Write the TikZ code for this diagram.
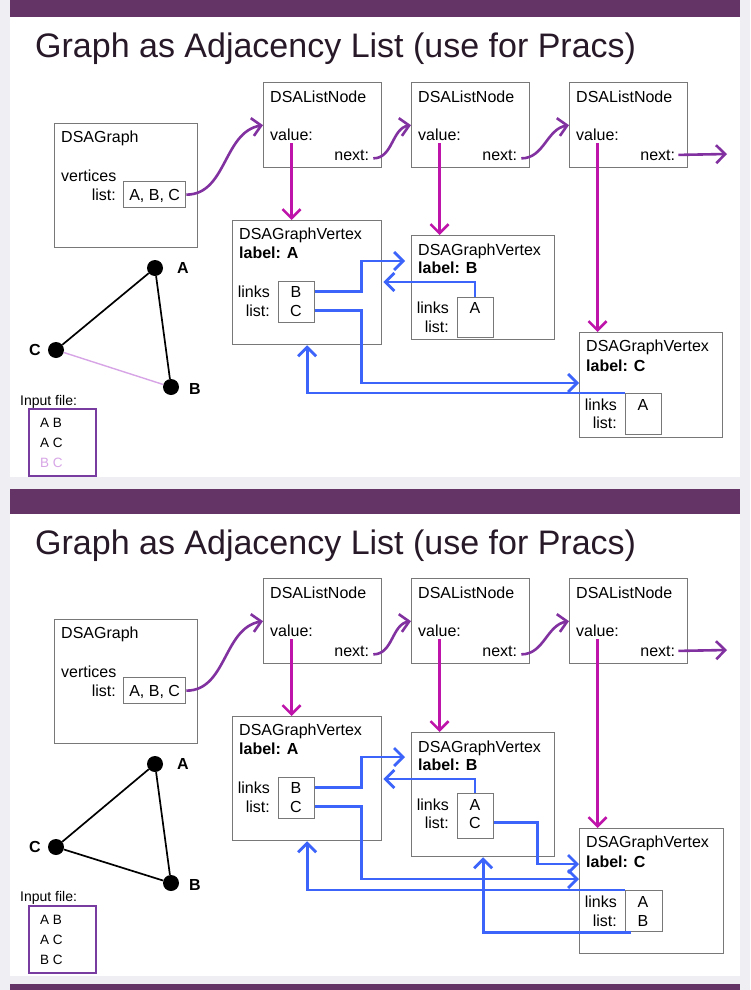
\documentclass[tikz,border=0pt]{standalone}
\usepackage{fontspec}
\setmainfont{Liberation Sans}
\usetikzlibrary{arrows.meta,positioning}

\definecolor{bggray}{RGB}{238,238,243}
\definecolor{barpurple}{RGB}{101,52,102}
\definecolor{titlecol}{RGB}{40,25,40}
\definecolor{boxgray}{RGB}{120,120,120}
\definecolor{valmag}{RGB}{190,20,170}
\definecolor{nextpur}{RGB}{130,50,160}
\definecolor{linkblue}{RGB}{60,100,250}
\definecolor{lightpur}{RGB}{215,165,230}
\definecolor{inpur}{RGB}{120,60,160}

\tikzset{
  box/.style={draw=boxgray, line width=1.3pt, anchor=north west, inner sep=0pt},
  txt/.style={font=\fontsize{16}{19}\selectfont, inner sep=0pt, anchor=base west},
  rtxt/.style={txt, anchor=base east},
  ctxt/.style={txt, anchor=base},
  btxt/.style={txt, font=\bfseries\fontsize{16}{19}\selectfont},
  ftxt/.style={font=\fontsize{13.5}{15}\selectfont, inner sep=0pt, anchor=base west},
  ttl/.style={font=\fontsize{34}{40}\selectfont, inner sep=0pt, anchor=base west, text=titlecol},
  vtx/.style={circle, fill=black, inner sep=0pt, minimum size=16pt},
  vlab/.style={font=\bfseries\fontsize{16}{19}\selectfont, inner sep=0pt},
  edge/.style={line width=1.7pt},
  tip/.style={-{Straight Barb[length=9pt,width=18pt]}},
  nextarr/.style={tip, draw=nextpur, line width=2.6pt},
  valarr/.style={tip, draw=valmag, line width=2.6pt},
  link/.style={tip, draw=linkblue, line width=2.8pt},
}

\begin{document}
\begin{tikzpicture}[x=1pt, y=-1pt]
    \useasboundingbox (0,0) rectangle (750,990);
    \fill[bggray] (0,0) rectangle (750,990);

    % ---------- Slide 1: edge B-C not yet read ----------
    \fill[white] (10,0) rectangle (740,477);
    \fill[barpurple] (10,0) rectangle (740,17);
    \node[ttl] (s1title) at (35,57) {Graph as Adjacency List (use for Pracs)};

    % graph object
    \node[box, minimum width=143pt, minimum height=124pt] (s1g) at (54,123) {};
    \node[txt] (s1gt) at ([shift={(7,19)}]s1g.north west) {DSAGraph};
    \node[txt] (s1gv) at ([shift={(7,58)}]s1g.north west) {vertices};
    \node[rtxt] (s1gl) at ([shift={(62,77)}]s1g.north west) {list:};
    \node[box, minimum width=62pt, minimum height=26pt] (s1glist) at (123,181) {};
    \node[ctxt] (s1gabc) at ([shift={(0,6)}]s1glist.center) {A, B, C};

    % list nodes
    \node[box, minimum width=118pt, minimum height=85pt] (s1ln1) at (263,82) {};
    \node[txt] (s1ln1t) at ([shift={(7,20)}]s1ln1.north west) {DSAListNode};
    \node[txt] (s1val1) at ([shift={(7,58)}]s1ln1.north west) {value:};
    \node[rtxt] (s1nxt1) at ([shift={(-13,78)}]s1ln1.north east) {next:};
    \node[box, minimum width=118pt, minimum height=85pt] (s1ln2) at (411,82) {};
    \node[txt] (s1ln2t) at ([shift={(7,20)}]s1ln2.north west) {DSAListNode};
    \node[txt] (s1val2) at ([shift={(7,58)}]s1ln2.north west) {value:};
    \node[rtxt] (s1nxt2) at ([shift={(-13,78)}]s1ln2.north east) {next:};
    \node[box, minimum width=118pt, minimum height=85pt] (s1ln3) at (569,82) {};
    \node[txt] (s1ln3t) at ([shift={(7,20)}]s1ln3.north west) {DSAListNode};
    \node[txt] (s1val3) at ([shift={(7,58)}]s1ln3.north west) {value:};
    \node[rtxt] (s1nxt3) at ([shift={(-13,78)}]s1ln3.north east) {next:};
    \coordinate (s1end) at (727,154);

    % vertices
    \node[box, minimum width=149pt, minimum height=124pt] (s1va) at (232,220) {};
    \node[txt] (s1vat) at ([shift={(7,19)}]s1va.north west) {DSAGraphVertex};
    \node[btxt] (s1val) at ([shift={(7,38)}]s1va.north west) {label: A};
    \node[rtxt] (s1vak) at ([shift={(38,77)}]s1va.north west) {links};
    \node[rtxt] (s1vas) at ([shift={(38,96)}]s1va.north west) {list:};
    \node[box, minimum width=36pt, minimum height=41pt] (s1val) at ([shift={(46,61)}]s1va.north west) {};
    \node[ctxt] (s1aB) at ([shift={(64,77)}]s1va.north west) {B};
    \node[ctxt] (s1aC) at ([shift={(64,96)}]s1va.north west) {C};

    \node[box, minimum width=143pt, minimum height=104pt] (s1vb) at (411,235) {};
    \node[txt] (s1vbt) at ([shift={(7,20)}]s1vb.north west) {DSAGraphVertex};
    \node[btxt] (s1vbb) at ([shift={(7,38)}]s1vb.north west) {label: B};
    \node[rtxt] (s1vbk) at ([shift={(38,78)}]s1vb.north west) {links};
    \node[rtxt] (s1vbs) at ([shift={(38,97)}]s1vb.north west) {list:};
    \node[box, minimum width=36pt, minimum height=40pt] (s1vbl) at ([shift={(46,62)}]s1vb.north west) {};
    \node[ctxt] (s1bA) at ([shift={(64,78)}]s1vb.north west) {A};

    \node[box, minimum width=143pt, minimum height=105pt] (s1vc) at (579,332) {};
    \node[txt] (s1vct) at ([shift={(7,19)}]s1vc.north west) {DSAGraphVertex};
    \node[btxt] (s1vcb) at ([shift={(7,39)}]s1vc.north west) {label: C};
    \node[rtxt] (s1vck) at ([shift={(38,78)}]s1vc.north west) {links};
    \node[rtxt] (s1vcs) at ([shift={(38,96)}]s1vc.north west) {list:};
    \node[box, minimum width=36pt, minimum height=41pt] (s1vcl) at ([shift={(46,61)}]s1vc.north west) {};
    \node[ctxt] (s1cA) at ([shift={(64,78)}]s1vc.north west) {A};

    % pointers
    \draw[nextarr] (s1glist.east) to[out=0, in=190] (s1ln1.west);
    \draw[nextarr] ([xshift=4pt, yshift=2pt]s1nxt1.south east) to[out=0, in=190] (s1ln2.west);
    \draw[nextarr] ([xshift=4pt, yshift=2pt]s1nxt2.south east) to[out=0, in=190] (s1ln3.west);
    \draw[nextarr] ([xshift=3pt]s1nxt3.east) -- (s1end);
    \draw[valarr] ([yshift=-3pt]s1val1.south) -- (s1val1.south |- s1va.north);
    \draw[valarr] ([yshift=-3pt]s1val2.south) -- (s1val2.south |- s1vb.north);
    \draw[valarr] ([yshift=-3pt]s1val3.south) -- (s1val3.south |- s1vc.north);

    % links
    \draw[link] (s1aB.center -| s1val.east) -- ++(46,0) |- ([shift={(-6,26)}]s1vb.north west);
    \draw[link] (s1aC.center -| s1val.east) -- ++(46,0) |- ([shift={(0,51)}]s1vc.north west);
    \draw[link] (s1bA.center |- s1vbl.north) |- ([shift={(1,62)}]s1va.north east);
    \draw[link] (s1vcl.north west) -| (s1va.south);

    % small graph
    \node[vtx] (s1A) at (155,268) {};
    \node[vtx] (s1B) at (171,387) {};
    \node[vtx] (s1C) at (56,350) {};
    \node[vlab] (s1lA) at (183,268) {A};
    \node[vlab] (s1lB) at (195,389) {B};
    \node[vlab] (s1lC) at (35,350) {C};
    \draw[edge] (s1A) -- (s1C);
    \draw[edge] (s1A) -- (s1B);
    \draw[line width=1.4pt, lightpur] (s1C) -- (s1B);

    % input file
    \node[ftxt, font=\fontsize{14}{16}\selectfont] (s1in) at (20,405) {Input file:};
    \node[draw=inpur, line width=2.2pt, anchor=north west, inner sep=0pt,
          minimum width=67pt, minimum height=67pt] (s1inbox) at (28,408) {};
    \node[ftxt] (s1in1) at (40,427) {A B};
    \node[ftxt] (s1in2) at (40,447) {A C};
    \node[ftxt, text=lightpur] (s1in3) at (40,467) {B C};

    % ---------- Slide 2: all three edges read ----------
    \fill[white] (10,489) rectangle (740,976);
    \fill[barpurple] (10,489) rectangle (740,514);
    \fill[barpurple] (10,984) rectangle (740,990);
    \begin{scope}[shift={(0,496)}]
    \node[ttl] (s2title) at (35,58) {Graph as Adjacency List (use for Pracs)};

    % graph object
    \node[box, minimum width=143pt, minimum height=124pt] (s2g) at (54,123) {};
    \node[txt] (s2gt) at ([shift={(7,19)}]s2g.north west) {DSAGraph};
    \node[txt] (s2gv) at ([shift={(7,58)}]s2g.north west) {vertices};
    \node[rtxt] (s2gl) at ([shift={(62,77)}]s2g.north west) {list:};
    \node[box, minimum width=62pt, minimum height=26pt] (s2glist) at (123,181) {};
    \node[ctxt] (s2gabc) at ([shift={(0,6)}]s2glist.center) {A, B, C};

    % list nodes
    \node[box, minimum width=118pt, minimum height=85pt] (s2ln1) at (263,82) {};
    \node[txt] (s2ln1t) at ([shift={(7,20)}]s2ln1.north west) {DSAListNode};
    \node[txt] (s2val1) at ([shift={(7,58)}]s2ln1.north west) {value:};
    \node[rtxt] (s2nxt1) at ([shift={(-13,78)}]s2ln1.north east) {next:};
    \node[box, minimum width=118pt, minimum height=85pt] (s2ln2) at (411,82) {};
    \node[txt] (s2ln2t) at ([shift={(7,20)}]s2ln2.north west) {DSAListNode};
    \node[txt] (s2val2) at ([shift={(7,58)}]s2ln2.north west) {value:};
    \node[rtxt] (s2nxt2) at ([shift={(-13,78)}]s2ln2.north east) {next:};
    \node[box, minimum width=118pt, minimum height=85pt] (s2ln3) at (569,82) {};
    \node[txt] (s2ln3t) at ([shift={(7,20)}]s2ln3.north west) {DSAListNode};
    \node[txt] (s2val3) at ([shift={(7,58)}]s2ln3.north west) {value:};
    \node[rtxt] (s2nxt3) at ([shift={(-13,78)}]s2ln3.north east) {next:};
    \coordinate (s2end) at (727,154);

    % vertices
    \node[box, minimum width=149pt, minimum height=124pt] (s2va) at (232,220) {};
    \node[txt] (s2vat) at ([shift={(7,19)}]s2va.north west) {DSAGraphVertex};
    \node[btxt] (s2val) at ([shift={(7,38)}]s2va.north west) {label: A};
    \node[rtxt] (s2vak) at ([shift={(38,77)}]s2va.north west) {links};
    \node[rtxt] (s2vas) at ([shift={(38,96)}]s2va.north west) {list:};
    \node[box, minimum width=36pt, minimum height=41pt] (s2val) at ([shift={(46,61)}]s2va.north west) {};
    \node[ctxt] (s2aB) at ([shift={(64,77)}]s2va.north west) {B};
    \node[ctxt] (s2aC) at ([shift={(64,96)}]s2va.north west) {C};

    \node[box, minimum width=143pt, minimum height=124pt] (s2vb) at (411,236) {};
    \node[txt] (s2vbt) at ([shift={(7,20)}]s2vb.north west) {DSAGraphVertex};
    \node[btxt] (s2vbb) at ([shift={(7,38)}]s2vb.north west) {label: B};
    \node[rtxt] (s2vbk) at ([shift={(38,78)}]s2vb.north west) {links};
    \node[rtxt] (s2vbs) at ([shift={(38,96)}]s2vb.north west) {list:};
    \node[box, minimum width=36pt, minimum height=45pt] (s2vbl) at ([shift={(46,61)}]s2vb.north west) {};
    \node[ctxt] (s2bA) at ([shift={(64,78)}]s2vb.north west) {A};
    \node[ctxt] (s2bC) at ([shift={(64,96)}]s2vb.north west) {C};

    \node[box, minimum width=144pt, minimum height=125pt] (s2vc) at (579,332) {};
    \node[txt] (s2vct) at ([shift={(7,19)}]s2vc.north west) {DSAGraphVertex};
    \node[btxt] (s2vcb) at ([shift={(7,39)}]s2vc.north west) {label: C};
    \node[rtxt] (s2vck) at ([shift={(38,79)}]s2vc.north west) {links};
    \node[rtxt] (s2vcs) at ([shift={(38,98)}]s2vc.north west) {list:};
    \node[box, minimum width=37pt, minimum height=41pt] (s2vcl) at ([shift={(46,62)}]s2vc.north west) {};
    \node[ctxt] (s2cA) at ([shift={(64,79)}]s2vc.north west) {A};
    \node[ctxt] (s2cB) at ([shift={(64,98)}]s2vc.north west) {B};

    % pointers
    \draw[nextarr] (s2glist.east) to[out=0, in=190] (s2ln1.west);
    \draw[nextarr] ([xshift=4pt, yshift=2pt]s2nxt1.south east) to[out=0, in=190] (s2ln2.west);
    \draw[nextarr] ([xshift=4pt, yshift=2pt]s2nxt2.south east) to[out=0, in=190] (s2ln3.west);
    \draw[nextarr] ([xshift=3pt]s2nxt3.east) -- (s2end);
    \draw[valarr] ([yshift=-3pt]s2val1.south) -- (s2val1.south |- s2va.north);
    \draw[valarr] ([yshift=-3pt]s2val2.south) -- (s2val2.south |- s2vb.north);
    \draw[valarr] ([yshift=-3pt]s2val3.south) -- (s2val3.south |- s2vc.north);

    % links
    \draw[link] (s2aB.center -| s2val.east) -- ++(46,0) |- ([shift={(-6,25)}]s2vb.north west);
    \draw[link] (s2aC.center -| s2val.east) -- ++(46,0) |- ([shift={(0,51)}]s2vc.north west);
    \draw[link] (s2bA.center |- s2vbl.north) |- ([shift={(1,63)}]s2va.north east);
    \draw[link] (s2bC.center -| s2vbl.east) -- ++(43,0) |- ([shift={(0,36)}]s2vc.north west);
    \draw[link] (s2vcl.north west) -| (s2va.south);
    \draw[link] ([xshift=6pt]s2vcl.south west) -| (s2vb.south);

    % small graph
    \node[vtx] (s2A) at (155,268) {};
    \node[vtx] (s2B) at (171,387) {};
    \node[vtx] (s2C) at (56,351) {};
    \node[vlab] (s2lA) at (183,268) {A};
    \node[vlab] (s2lB) at (195,389) {B};
    \node[vlab] (s2lC) at (35,351) {C};
    \draw[edge] (s2A) -- (s2C);
    \draw[edge] (s2A) -- (s2B);
    \draw[edge] (s2C) -- (s2B);

    % input file
    \node[ftxt, font=\fontsize{14}{16}\selectfont] (s2in) at (20,405) {Input file:};
    \node[draw=inpur, line width=2.2pt, anchor=north west, inner sep=0pt,
          minimum width=67pt, minimum height=67pt] (s2inbox) at (28,409) {};
    \node[ftxt] (s2in1) at (40,428) {A B};
    \node[ftxt] (s2in2) at (40,448) {A C};
    \node[ftxt] (s2in3) at (40,468) {B C};
    \end{scope}
\end{tikzpicture}
\end{document}
